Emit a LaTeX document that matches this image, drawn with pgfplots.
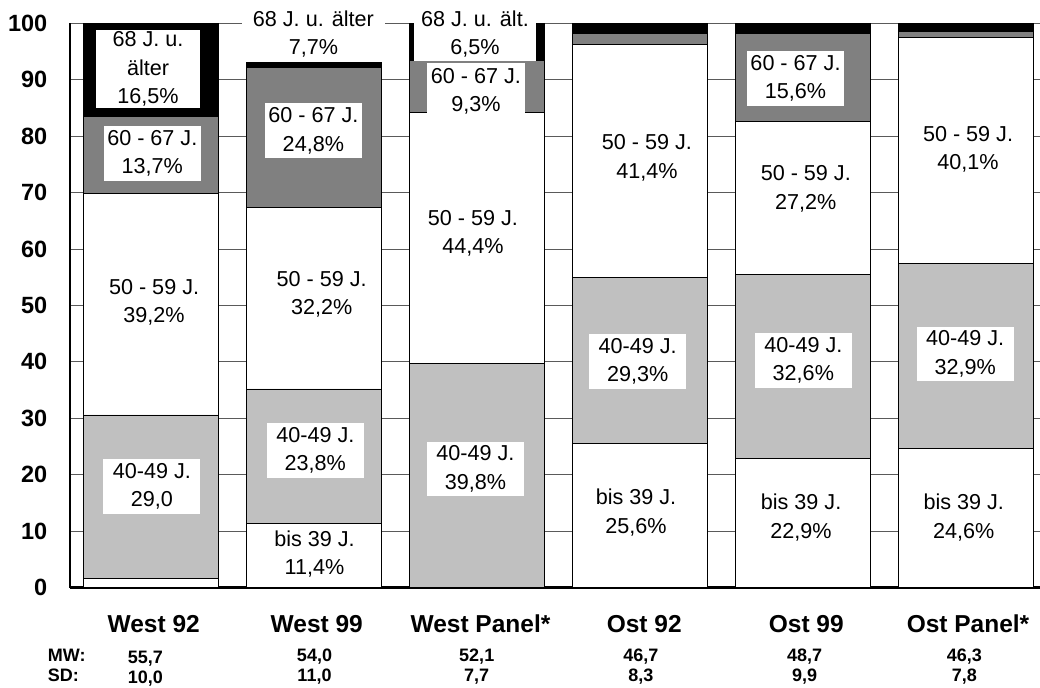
\documentclass[border=0pt]{standalone}
\usepackage{pgfplots}
\usepackage{pgfplotstable}
\pgfplotsset{compat=1.18}
\usepackage{fontspec}
\setmainfont{Liberation Sans}

\definecolor{lightgr}{HTML}{C0C0C0}
\definecolor{darkgr}{HTML}{808080}
\definecolor{gridgr}{HTML}{5A5A5A}

% Altersgruppen in Prozent je Stichprobe
\pgfplotstableread{
idx b39  a40  a50  a60  a68
0   1.6  29.0 39.2 13.7 16.5
1   11.4 23.8 32.2 24.8 7.7
2   0.0  39.8 44.4 9.3  6.5
3   25.6 29.3 41.4 1.9  1.8
4   22.9 32.6 27.2 15.6 1.7
5   24.6 32.9 40.1 1.0  1.4
}\agedata

\tikzset{
  lbl/.style={fill=white, inner sep=0pt, minimum width=97bp, minimum height=54.7bp,
    align=center, font=\fontsize{21.6bp}{28.5bp}\selectfont},
  cat/.style={anchor=base, font=\fontsize{24.5bp}{26bp}\selectfont\bfseries},
  stat/.style={anchor=base, font=\fontsize{18bp}{20bp}\selectfont\bfseries},
}

\begin{document}
\begin{tikzpicture}
\path[use as bounding box] (0,0) rectangle (1040bp,688bp);
\begin{axis}[
  at={(70bp,100.5bp)}, anchor=south west,
  scale only axis, width=970bp, height=564bp,
  xmin=-0.4956, xmax=5.4535, ymin=0, ymax=100,
  ybar stacked, bar width=0.826,
  axis x line=bottom, axis y line=left,
  axis line style={-},
  x axis line style={line width=2bp},
  y axis line style={line width=1.2bp},
  xtick=\empty, ytick={0,10,...,100},
  major tick length=0pt,
  ymajorgrids, major grid style={gridgr, line width=1bp},
  /pgf/number format/assume math mode=true,
  yticklabel style={font=\fontsize{23.5bp}{24bp}\selectfont\bfseries,
    anchor=east, inner sep=0pt, xshift=-22.5bp},
  clip=false,
  every axis plot/.append style={draw=black, line width=0.8bp},
]
\addplot[fill=white]   table[x=idx, y=b39] {\agedata};
\addplot[fill=lightgr] table[x=idx, y=a40] {\agedata};
\addplot[fill=white]   table[x=idx, y=a50] {\agedata};
\addplot[fill=darkgr]  table[x=idx, y=a60] {\agedata};
\addplot[fill=black]   table[x=idx, y=a68] {\agedata};

% Ankerpunkte der Segmentbeschriftungen
\coordinate (w92e) at (axis cs:-0.017,91.9);
\coordinate (w92d) at (axis cs:0.009,77.0);
\coordinate (w92c) at (axis cs:0.020,50.6);
\coordinate (w92b) at (axis cs:0.007,17.9);
\coordinate (w99e) at (axis cs:0.997,98.1);
\coordinate (w99d) at (axis cs:0.997,81.0);
\coordinate (w99c) at (axis cs:1.048,51.95);
\coordinate (w99b) at (axis cs:1.009,24.3);
\coordinate (w99a) at (axis cs:1.004,5.94);
\coordinate (wpe) at (axis cs:1.988,98.1);
\coordinate (wpd) at (axis cs:1.994,88.0);
\coordinate (wpc) at (axis cs:1.976,62.8);
\coordinate (wpb) at (axis cs:1.991,21.0);
\coordinate (o92c) at (axis cs:3.043,76.2);
\coordinate (o92b) at (axis cs:2.986,40.1);
\coordinate (o92a) at (axis cs:2.976,13.3);
\coordinate (o99d) at (axis cs:3.954,90.25);
\coordinate (o99c) at (axis cs:4.017,70.7);
\coordinate (o99b) at (axis cs:4.002,40.3);
\coordinate (o99a) at (axis cs:3.988,12.4);
\coordinate (opc) at (axis cs:5.012,77.7);
\coordinate (opb) at (axis cs:4.995,41.4);
\coordinate (opa) at (axis cs:4.986,12.4);

% Gruppennamen
\node[cat] at (axis cs:0.018,-7.94) {West 92};
\node[cat] at (axis cs:1.018,-7.94) {West 99};
\node[cat] at (axis cs:2.022,-7.94) {West Panel*};
\node[cat] at (axis cs:3.026,-7.94) {Ost 92};
\node[cat] at (axis cs:4.020,-7.94) {Ost 99};
\node[cat] at (axis cs:5.012,-7.94) {Ost Panel*};

% Mittelwert und Standardabweichung
\node[stat, anchor=base west] at (axis cs:-0.653,-13.16) {MW:};
\node[stat, anchor=base west] at (axis cs:-0.653,-16.7) {SD:};
\node[stat] at (axis cs:-0.033,-13.4) {55,7};
\node[stat] at (axis cs:1.004,-13.16) {54,0};
\node[stat] at (axis cs:1.999,-13.16) {52,1};
\node[stat] at (axis cs:3.005,-13.16) {46,7};
\node[stat] at (axis cs:4.010,-13.16) {48,7};
\node[stat] at (axis cs:4.990,-13.16) {46,3};
\node[stat] at (axis cs:-0.033,-17.0) {10,0};
\node[stat] at (axis cs:1.004,-16.7) {11,0};
\node[stat] at (axis cs:1.999,-16.7) {7,7};
\node[stat] at (axis cs:3.005,-16.7) {8,3};
\node[stat] at (axis cs:4.010,-16.7) {9,9};
\node[stat] at (axis cs:4.990,-16.7) {7,8};
\end{axis}

% Segmentbeschriftungen über den Balken
% West 92
\node[lbl, minimum width=104bp, minimum height=78.3bp] at (w92e) {68 J. u.\\älter\\16,5\%};
\node[lbl] at (w92d) {60 - 67 J.\\13,7\%};
\node[lbl] at (w92c) {50 - 59 J.\\39,2\%};
\node[lbl] at (w92b) {40-49 J.\\29,0};
% West 99
\node[lbl, minimum width=143.3bp] at (w99e) {68 J. u. älter\\7,7\%};
\node[lbl] at (w99d) {60 - 67 J.\\24,8\%};
\node[lbl] at (w99c) {50 - 59 J.\\32,2\%};
\node[lbl] at (w99b) {40-49 J.\\23,8\%};
\node[lbl] at (w99a) {bis 39 J.\\11,4\%};
% West Panel
\node[lbl, minimum width=122bp, minimum height=54bp] at (wpe) {68 J. u. ält.\\6,5\%};
\node[lbl, minimum width=98.3bp, minimum height=56bp] at (wpd) {60 - 67 J.\\9,3\%};
\node[lbl] at (wpc) {50 - 59 J.\\44,4\%};
\node[lbl] at (wpb) {40-49 J.\\39,8\%};
% Ost 92
\node[lbl] at (o92c) {50 - 59 J.\\41,4\%};
\node[lbl] at (o92b) {40-49 J.\\29,3\%};
\node[lbl] at (o92a) {bis 39 J.\\25,6\%};
% Ost 99
\node[lbl] at (o99d) {60 - 67 J.\\15,6\%};
\node[lbl] at (o99c) {50 - 59 J.\\27,2\%};
\node[lbl] at (o99b) {40-49 J.\\32,6\%};
\node[lbl] at (o99a) {bis 39 J.\\22,9\%};
% Ost Panel
\node[lbl] at (opc) {50 - 59 J.\\40,1\%};
\node[lbl] at (opb) {40-49 J.\\32,9\%};
\node[lbl] at (opa) {bis 39 J.\\24,6\%};
\end{tikzpicture}
\end{document}
